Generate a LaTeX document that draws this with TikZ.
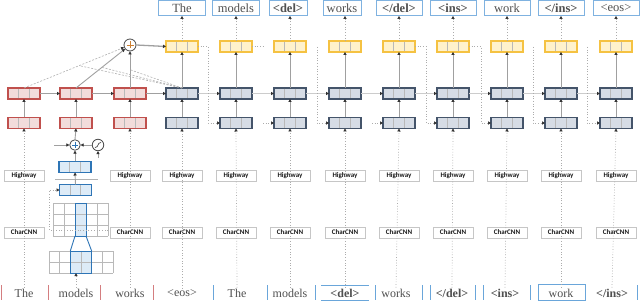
\documentclass[tikz,border=0pt]{standalone}
\usepackage{fontspec}
\newfontfamily\calfont{Carlito}
\newfontfamily\serfont{Liberation Serif}
\usetikzlibrary{calc,arrows.meta}
\definecolor{redB}{HTML}{C0504D}
\definecolor{redF}{HTML}{F2DCDB}
\definecolor{navB}{HTML}{44546A}
\definecolor{navF}{HTML}{D6DCE5}
\definecolor{yelB}{HTML}{F5C242}
\definecolor{yelF}{HTML}{FFF2CC}
\definecolor{bluB}{HTML}{2E75B6}
\definecolor{bluF}{HTML}{DDEBF7}
\definecolor{lblB}{HTML}{7FB2E0}
\definecolor{barR}{HTML}{D47E80}
\definecolor{barB}{HTML}{6AA6DA}
\definecolor{txt}{HTML}{505050}
\definecolor{lnk}{HTML}{A0A0A0}
\newcommand\tribox[4]{%
  \node[#4] (#1) at (#2,#3) {};
  \draw[divider] ($(#1.north west)!0.3333!(#1.north east)$) -- ($(#1.south west)!0.3333!(#1.south east)$);
  \draw[divider] ($(#1.north west)!0.6667!(#1.north east)$) -- ($(#1.south west)!0.6667!(#1.south east)$);
}
\begin{document}
\begin{tikzpicture}[x=1pt,y=-1pt,
 cell/.style={draw, line width=1.1pt, minimum width=32pt, minimum height=11pt, inner sep=0pt, outer sep=0pt},
 redcell/.style={cell, draw=redB, fill=redF},
 navcell/.style={cell, draw=navB, fill=navF},
 yelcell/.style={cell, draw=yelB, fill=yelF},
 blucell/.style={cell, draw=bluB, fill=bluF},
 divider/.style={draw=gray!55, line width=0.9pt, shorten <=0.6pt, shorten >=0.6pt},
 smalltip/.style={-{Triangle[length=3pt,width=3.2pt,color=gray!40!black]}},
 arr/.style={draw=lnk, line width=0.9pt, smalltip},
 dotarr/.style={draw=gray!65, line width=0.7pt, dotted, smalltip},
 dotln/.style={draw=gray!65, line width=0.7pt, dotted},
 dashln/.style={draw=gray!60, line width=0.6pt, dash pattern=on 2pt off 1.5pt},
 lbl/.style={draw=lblB, line width=1pt, minimum height=15pt, inner sep=0pt, text=txt, font=\serfont\fontsize{12.5}{12.5}\selectfont},
 word/.style={text=txt, font=\serfont\fontsize{12}{12}\selectfont, inner sep=1pt},
 modbox/.style={draw=gray!45, line width=0.8pt, minimum width=40pt, minimum height=11pt, inner sep=0pt, text=gray!20!black, font=\calfont\bfseries\fontsize{7}{7}\selectfont},
 op/.style={circle, draw=gray!60!black, line width=0.8pt, fill=white, minimum size=11pt, inner sep=0pt},
 gridln/.style={draw=gray!55, line width=0.6pt},
 rbar/.style={draw=barR, line width=1pt},
 bbar/.style={draw=barB, line width=1pt}]
\fill[white] (0,0) rectangle (640,302);
\useasboundingbox (0,0) rectangle (640,302);

% ---------- encoder columns ----------
\tribox{e1m}{24}{93.5}{redcell}
\tribox{e2m}{76}{93.5}{redcell}
\tribox{e3m}{130}{93.5}{redcell}
\tribox{e1b}{24}{123}{redcell}
\tribox{e2b}{76}{123}{redcell}
\tribox{e3b}{130}{123}{redcell}
\node[modbox] (ehw1) at (24,176) {Highway};
\node[modbox] (ecc1) at (24,232.5) {CharCNN};
\node[modbox] (ehw3) at (130,176) {Highway};
\node[modbox] (ecc3) at (130,232.5) {CharCNN};

% ---------- decoder columns ----------
\foreach \i/\x in {1/182,2/236,3/290,4/345,5/399,6/453,7/507,8/561,9/616} {
  \tribox{dy\i}{\x}{46.5}{yelcell}
  \tribox{dm\i}{\x}{93.5}{navcell}
  \tribox{db\i}{\x}{123}{navcell}
  \node[modbox] (hw\i) at (\x,176) {Highway};
  \node[modbox] (cc\i) at (\x,232.5) {CharCNN};
}

% ---------- top output labels ----------
\node[lbl, minimum width=47pt] (lab1) at (182,8) {The};
\node[lbl, minimum width=47pt] (lab2) at (236,8) {models};
\node[lbl, minimum width=38pt] (lab3) at (288,8) {\textbf{<del>}};
\node[lbl, minimum width=38pt] (lab4) at (342,8) {works};
\node[lbl, minimum width=46pt] (lab5) at (399,8) {\textbf{</del>}};
\node[lbl, minimum width=46pt] (lab6) at (453,8) {\textbf{<ins>}};
\node[lbl, minimum width=46pt] (lab7) at (507,8) {work};
\node[lbl, minimum width=46pt] (lab8) at (561,8) {\textbf{</ins>}};
\node[lbl, minimum width=46pt] (lab9) at (616,8) {<eos>};

% ---------- bottom input words ----------
\node[word] (we1) at (24,293) {The};
\node[word] (we2) at (76,293) {models};
\node[word] (we3) at (130,293) {works};
\node[word] (wd1) at (182,293) {<eos>};
\node[word] (wd2) at (237,293) {The};
\node[word] (wd3) at (290,293) {models};
\node[word] (wd4) at (345,293) {\textbf{<del>}};
\node[word] (wd5) at (396,293) {works};
\node[word] (wd6) at (452,293) {\textbf{</del>}};
\node[word] (wd7) at (505,293) {\textbf{<ins>}};
\node[word] (wd8) at (561,293) {work};
\node[word] (wd9) at (612,293) {\textbf{</ins>}};

% separators
\foreach \x in {1.5,48,100,153} \draw[rbar] (\x,285) -- (\x,300);
\foreach \x in {213,267,315,375,422,430,475,483,530,637} \draw[bbar] (\x,285) -- (\x,300);
\draw[bbar] (321,285) -- (369,285) (321,300) -- (369,300);
\draw[bbar] (538,284) rectangle (585,300);

% ---------- vertical connections ----------
\foreach \i in {1,...,9} {
  \draw[dotarr] (dy\i.north) -- (dy\i.north |- lab\i.south);
  \draw[arr] (dm\i.north) -- (dy\i.south);
  \draw[arr] (db\i.north) -- (dm\i.south);
  \draw[dotarr] (wd\i.north) -- (db\i.south);
}
\draw[arr] (e1b.north) -- (e1m.south);
\draw[arr] (e2b.north) -- (e2m.south);
\draw[arr] (e3b.north) -- (e3m.south);
\draw[dotarr] (we1.north) -- (e1b.south);
\draw[dotarr] (we3.north) -- (e3b.south);

% ---------- horizontal recurrent connections ----------
\draw[arr] (e1m.east) -- (e2m.west);
\draw[arr] (e2m.east) -- (e3m.west);
\draw[arr] (e3m.east) -- (dm1.west);
\foreach \i/\j in {1/2,2/3,3/4,4/5,5/6,6/7,7/8,8/9}
  \draw[arr, draw=gray!40] (dm\i.east) -- (dm\j.west);

% ---------- attention ----------
\node[op, minimum size=12pt] (aplus) at (130,45) {};
\draw[orange!60!gray, line width=0.8pt] ($(aplus)+(-3.5,0)$) -- ($(aplus)+(3.5,0)$) ($(aplus)+(0,-3.5)$) -- ($(aplus)+(0,3.5)$);
\draw[dashln, smalltip] (e1m.north) -- (aplus);
\draw[arr] (e2m.north) -- (aplus);
\draw[arr] (e3m.north) -- (aplus.south);
\draw[arr, line width=1.3pt] (aplus.east) -- (dy1.west);
\draw[dashln] (dm1.north) -- ($(e1m.north)!0.52!(aplus)$);
\draw[dashln] (dm1.north) -- ($(e2m.north)!0.48!(aplus)$);
\draw[dashln] (dm1.north) -- ($(e3m.north)!0.5!(aplus.south)$);

% ---------- feedback (previous output -> next input) ----------
\draw[dotarr] (dy1.east) -- ++(10,0) |- (db2.west);
\coordinate (s2) at ($(dy2.east)+(11,0)$);
\draw[dotln] (dy2.east) -- (s2);
\coordinate (t3) at ($(db3.west)+(-11,0)$);
\draw[dotarr] (t3) -- (db3.west);
\coordinate (v3) at (317,47);
\draw[dotarr] (v3) |- (db4.west);
\coordinate (t5) at ($(db5.west)+(-11,0)$);
\draw[dotarr] (t5) -- (db5.west);
\draw[dotarr] (dy5.east) -- ++(11,0) |- (db6.west);
\draw[dotarr] (dy6.east) -- ++(12,0) |- (db7.west);
\coordinate (v7) at (533,47);
\draw[dotarr] (v7) |- (db8.west);
\coordinate (v8) at (587,47);
\draw[dotarr] (v8) |- (db9.west);

% ---------- char-CNN / highway detail (column "models") ----------
\node[inner sep=0pt, minimum width=64pt, minimum height=22pt] (ingrid) at (81,262) {};
\fill[bluF] (70.33,251) rectangle (91.67,273);
\foreach \k in {0,...,6} \draw[gridln] (49+\k*10.667,251) -- (49+\k*10.667,273);
\foreach \r in {0,1,2} \draw[gridln] (49,251+\r*11) -- (113,251+\r*11);
\draw[bluB, line width=1pt] (70.33,251) rectangle (91.67,273);

\node[inner sep=0pt, minimum width=55pt, minimum height=33pt] (convgrid) at (80.5,219.5) {};
\fill[bluF] (75,203) rectangle (86,236);
\foreach \k in {0,...,5} \draw[gridln] (53+\k*11,203) -- (53+\k*11,236);
\foreach \r in {0,...,3} \draw[gridln] (53,203+\r*11) -- (108,203+\r*11);
\draw[bluB, line width=1pt] (75,203) rectangle (86,236);
\draw[bluB, line width=0.9pt] (75,236) -- (70.33,251) (86,236) -- (91.67,251);
\draw[dotarr] (we2.north) -- (ingrid.south -| we2.north);

\tribox{hwa}{75}{167}{blucell}
\tribox{hwb}{75.5}{190}{blucell}
\coordinate (sepL) at (55,179);
\coordinate (sepR) at (98,179);
\draw[draw=gray!60, line width=1pt] (sepL) -- (sepR);
\draw[arr] (hwb.north) -- (hwa.south);
\coordinate (sk) at (108,230);
\draw[dotarr] (sk) -- (49,230) |- (hwb.west);

\node[op, minimum size=10.5pt] (cplus) at (75,145) {};
\draw[bluB, line width=0.7pt] ($(cplus)+(-3,0)$) -- ($(cplus)+(3,0)$) ($(cplus)+(0,-3)$) -- ($(cplus)+(0,3)$);
\node[op, minimum size=11.5pt] (sig) at (98,145) {};
\draw[gray!40!black, line width=0.6pt] ($(sig)+(-3,2.5)$) .. controls ($(sig)+(1,2.5)$) and ($(sig)+(-1,-2.5)$) .. ($(sig)+(3,-2.5)$);
\coordinate (cin) at (54,145);
\draw[arr] (cin) -- (cplus.west);
\draw[arr] (sig.west) -- (cplus.east);
\coordinate (sigin) at (98,158);
\draw[arr] (sigin) -- (sig.south);
\draw[arr] (hwa.north) -- (cplus.south);
\draw[arr] (cplus.north) -- (e2b.south);
\end{tikzpicture}
\end{document}
